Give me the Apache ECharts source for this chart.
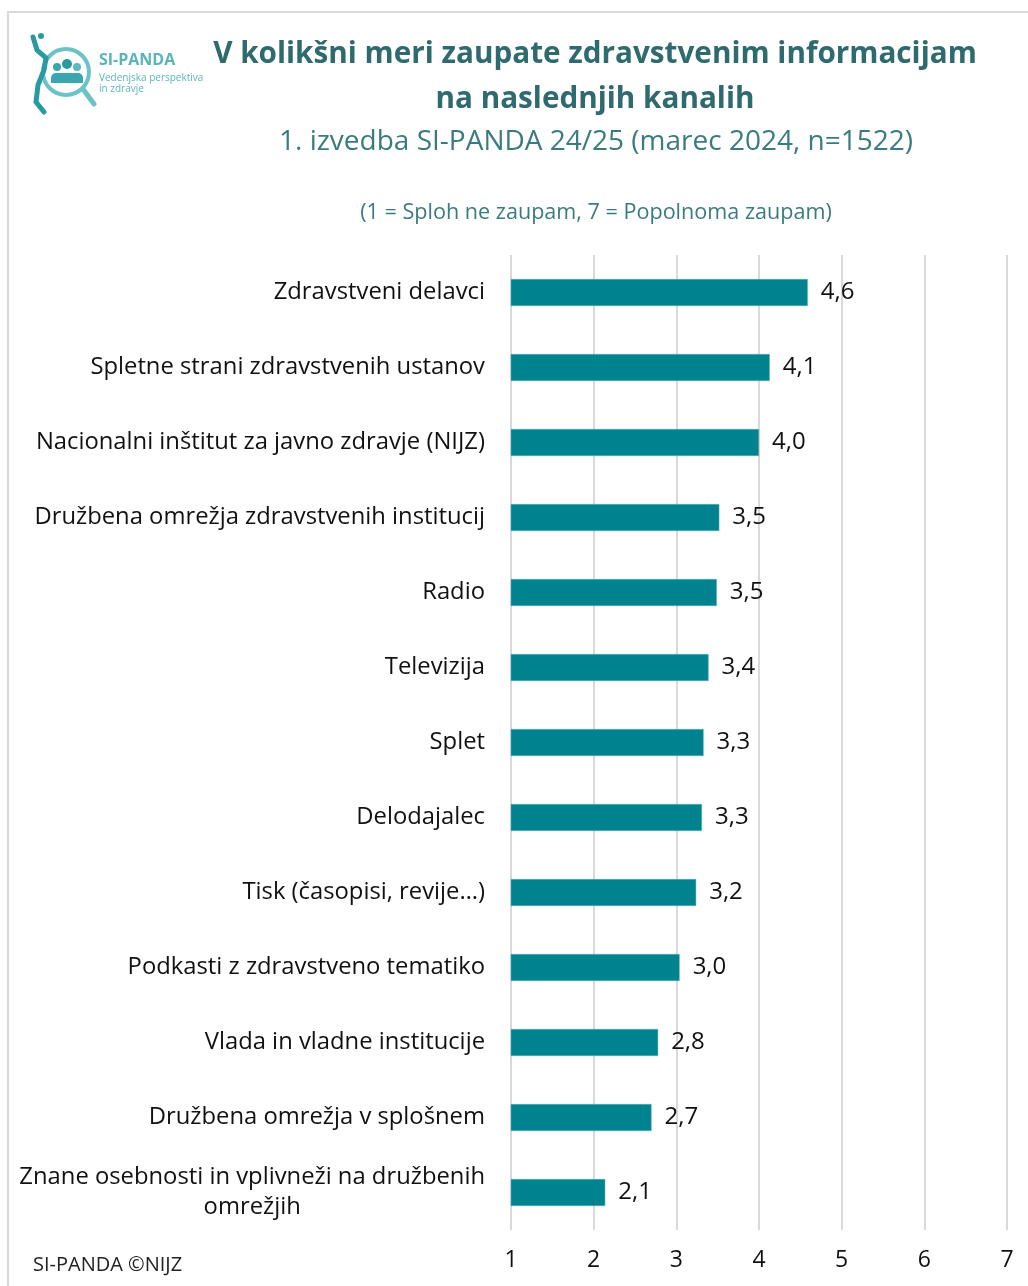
<!DOCTYPE html>
<html>
<head>
<meta charset="utf-8">
<script src="https://cdn.jsdelivr.net/npm/echarts@6/dist/echarts.min.js"></script>
<style>
  html, body { margin: 0; padding: 0; background: #fff; }
  #chart { width: 1028px; height: 1286px; }
</style>
</head>
<body>
<div id="chart"></div>
<script>
// kanali (od zgoraj navzdol) in povprecne ocene zaupanja
var channels = [
  'Zdravstveni delavci',
  'Spletne strani zdravstvenih ustanov',
  'Nacionalni inštitut za javno zdravje (NIJZ)',
  'Družbena omrežja zdravstvenih institucij',
  'Radio',
  'Televizija',
  'Splet',
  'Delodajalec',
  'Tisk (časopisi, revije…)',
  'Podkasti z zdravstveno tematiko',
  'Vlada in vladne institucije',
  'Družbena omrežja v splošnem',
  'Znane osebnosti in vplivneži na družbenih\nomrežjih'
];
var trust = [4.59, 4.13, 4.00, 3.52, 3.49, 3.39, 3.33, 3.31, 3.24, 3.04, 2.78, 2.70, 2.14];
var scaleTicks = [1, 2, 3, 4, 5, 6, 7];

var teal = '#00838f';
var titleColor = '#2e6a6e';
var font = 'Open Sans';
var labelSize = 23.8;

var chart = echarts.init(document.getElementById('chart'));

var option = {
  backgroundColor: '#fff',
  textStyle: { fontFamily: font },
  title: [{
    text: 'V kolikšni meri zaupate zdravstvenim informacijam\nna naslednjih kanalih',
    left: 590, top: 27, textAlign: 'center',
    textStyle: { fontFamily: font, fontSize: 29.7, fontWeight: 'bold', color: titleColor, lineHeight: 45 }
  }, {
    text: '1. izvedba SI-PANDA 24/25 (marec 2024, n=1522)',
    left: 591, top: 123, textAlign: 'center',
    textStyle: { fontFamily: font, fontSize: 28, fontWeight: 'normal', color: '#3a7b7f' }
  }, {
    text: '(1 = Sploh ne zaupam, 7 = Popolnoma zaupam)',
    left: 591, top: 197, textAlign: 'center',
    textStyle: { fontFamily: font, fontSize: 21.6, fontWeight: 'normal', color: '#3a7b7f' }
  }, {
    text: 'SI-PANDA ©NIJZ',
    left: 28, top: 1250,
    textStyle: { fontFamily: font, fontSize: 20, fontWeight: 'normal', color: '#222' }
  }],
  grid: { left: 511, right: 21, top: 255, height: 975, containLabel: false },
  xAxis: {
    type: 'value',
    min: scaleTicks[0], max: scaleTicks[scaleTicks.length - 1], interval: 1,
    axisLine: { show: false },
    axisTick: { show: false },
    splitLine: { show: true, lineStyle: { color: '#d9d9d9', width: 2 } },
    axisLabel: { fontFamily: font, fontSize: 23, color: '#111', margin: 19 }
  },
  yAxis: {
    type: 'category',
    inverse: true,
    data: channels,
    axisLine: { show: false },
    axisTick: { show: false },
    axisLabel: {
      margin: 26,
      align: 'right',
      fontFamily: font, fontSize: labelSize, color: '#111', lineHeight: 30,
      formatter: function (v) {
        var parts = v.split('\n');
        if (parts.length === 1) return v;
        return '{a|' + parts[0] + '}\n{b|' + parts[1] + '}';
      },
      rich: {
        a: { fontFamily: font, fontSize: labelSize, color: '#111', lineHeight: 30 },
        b: { fontFamily: font, fontSize: labelSize, color: '#111', lineHeight: 30, align: 'center' }
      }
    }
  },
  series: [{
    type: 'bar',
    data: trust,
    barWidth: 27,
    itemStyle: { color: teal, borderColor: '#5fb3ba', borderWidth: 0.5 },
    label: {
      show: true,
      position: 'right',
      distance: 13,
      fontFamily: font, fontSize: 24, color: '#111',
      formatter: function (p) { return p.value.toFixed(1).replace('.', ','); }
    }
  }],
  graphic: [
    // okvir
    { type: 'rect', shape: { x: 8, y: 12, width: 1030, height: 1290 }, style: { fill: 'none', stroke: '#d9d9d9', lineWidth: 2 }, silent: true },
    // logotip
    { type: 'circle', shape: { cx: 66, cy: 72, r: 23 }, style: { fill: 'none', stroke: '#6cc2c6', lineWidth: 4 } },
    { type: 'line', shape: { x1: 83, y1: 89, x2: 94, y2: 104 }, style: { stroke: '#6cc2c6', lineWidth: 5, lineCap: 'round' } },
    { type: 'circle', shape: { cx: 57, cy: 67, r: 4 }, style: { fill: '#3aa6ad' } },
    { type: 'circle', shape: { cx: 67, cy: 64, r: 5 }, style: { fill: '#2a9aa2' } },
    { type: 'circle', shape: { cx: 77, cy: 67, r: 4 }, style: { fill: '#5fb8bd' } },
    { type: 'rect', shape: { x: 51, y: 73, width: 32, height: 10, r: [5, 5, 0, 0] }, style: { fill: '#3aa6ad' } },
    { type: 'circle', shape: { cx: 41, cy: 36, r: 3 }, style: { fill: '#2a9aa2' } },
    { type: 'polyline', shape: { points: [[33, 37], [37, 50], [46, 58], [44, 70], [38, 85], [36, 102], [44, 112]] }, style: { stroke: '#2a9aa2', lineWidth: 5, fill: 'none', lineCap: 'round' } },
    { type: 'text', left: 99, top: 52, style: { text: 'SI-PANDA', font: 'bold 16px "Open Sans"', fill: '#5ab5b9' } },
    { type: 'text', left: 99, top: 73, style: { text: 'Vedenjska perspektiva', font: '10px "Open Sans"', fill: '#5ab5b9' } },
    { type: 'text', left: 99, top: 84, style: { text: 'in zdravje', font: '10px "Open Sans"', fill: '#5ab5b9' } }
  ]
};

chart.setOption(option);
</script>
</body>
</html>
